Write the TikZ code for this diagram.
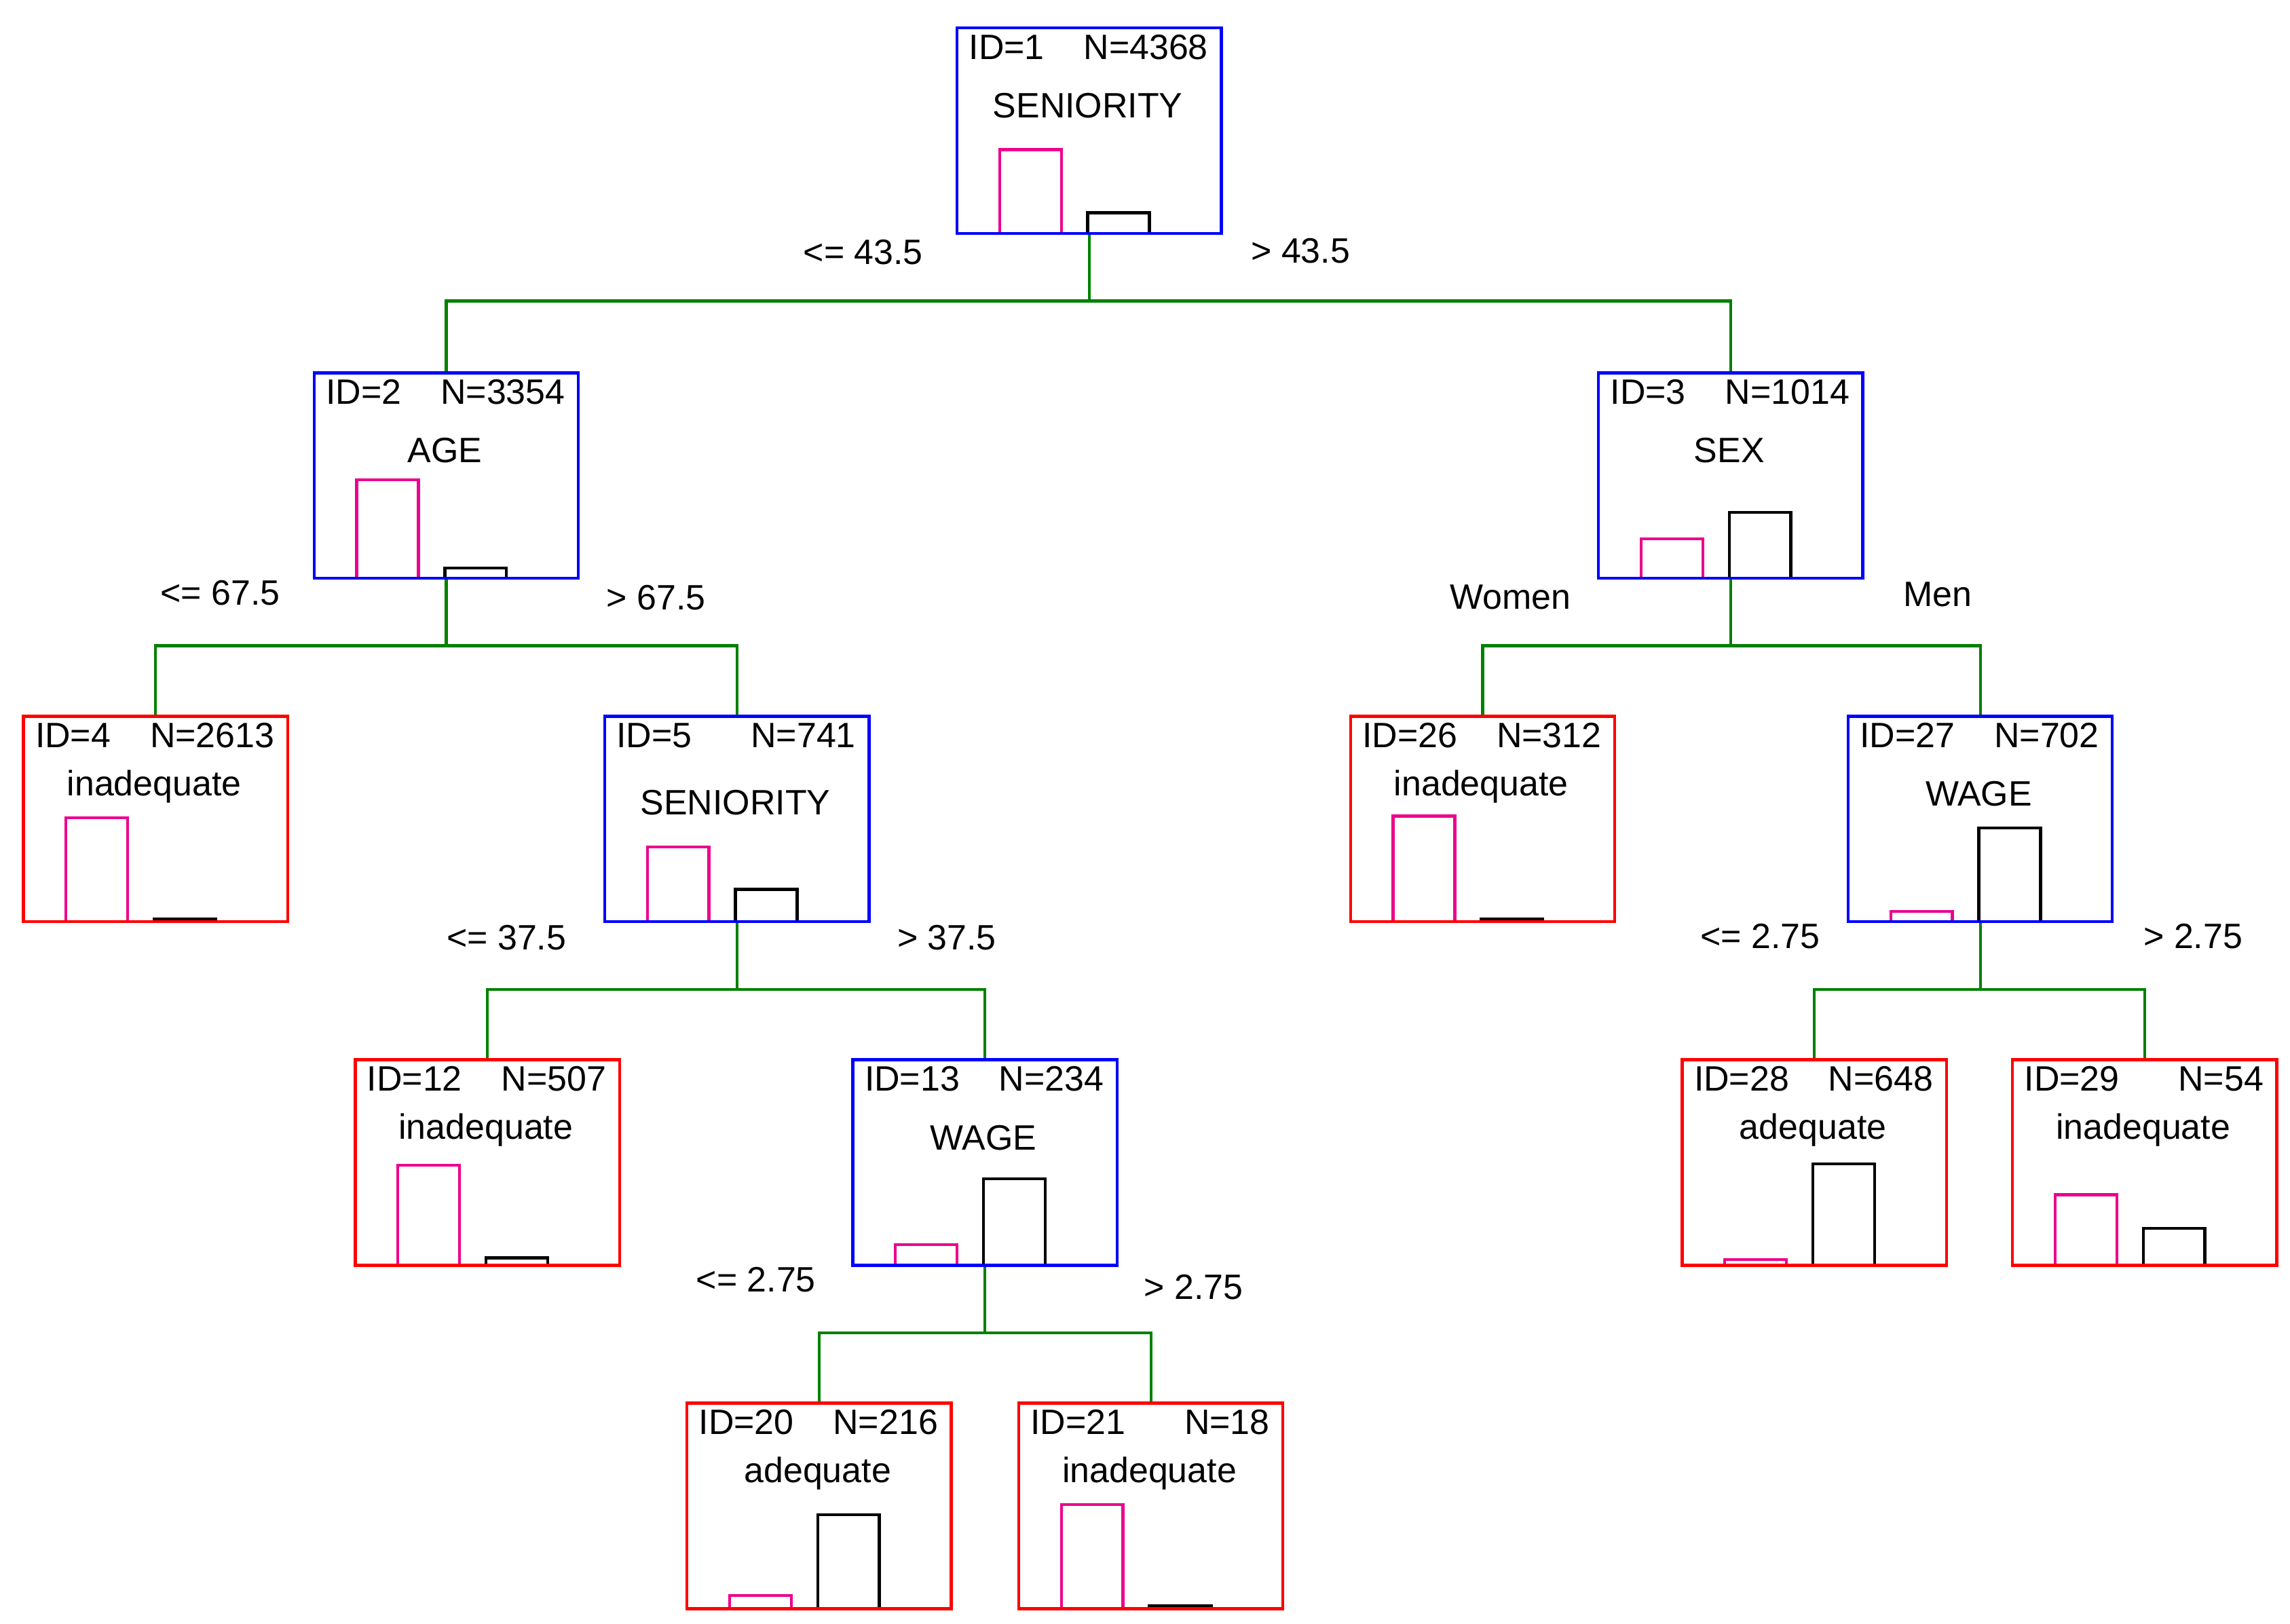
\documentclass[tikz,border=0pt]{standalone}
\usepackage{fontspec}
\setmainfont{Liberation Sans}
\begin{document}
\begin{tikzpicture}[x=0.5pt,y=-0.5pt,
  box/.style={draw,line width=1pt,minimum width=90pt,minimum height=70pt,inner sep=0pt,anchor=north west},
  split/.style={box,blue},
  leaf/.style={box,red},
  mag/.style={draw=magenta,line width=1pt},
  blk/.style={draw=black,line width=1pt},
  con/.style={draw=green!50!black,line width=1pt},
  lab/.style={font=\fontsize{12}{14}\selectfont}]
\fill[white] (0,0) rectangle (1560,1106);
\useasboundingbox (0,0) rectangle (1560,1106);
% #1 name #2 x #3 y #4 style #5 ID #6 N #7 label #8 label dy #9 magenta top, then black top via \bb
\newcommand\tbox[9]{%
  \node[#4] (#1) at (#2,#3) {};
  \node[lab,anchor=west] at (#2+2,#3+14) {ID=#5};
  \node[lab,anchor=east] at (#2+179,#3+14) {N=#6};
  \node[lab] at (#2+90,#3+#8) {#7};
  \draw[mag] (#2+30,#3+140) -- (#2+30,#9) -- (#2+72,#9) -- (#2+72,#3+140);
}
\newcommand\bb[2]{\draw[blk] (#1+90,#2+140) -- (#1+90,\tb) -- (#1+132,\tb) -- (#1+132,#2+140);}
\tbox{n1}{651}{18}{split}{1}{4368}{SENIORITY}{54}{102}\def\tb{145}\bb{651}{18}
\tbox{n2}{213}{253}{split}{2}{3354}{AGE}{54}{327}\def\tb{387}\bb{213}{253}
\tbox{n3}{1088}{253}{split}{3}{1014}{SEX}{54}{367}\def\tb{349}\bb{1088}{253}
\tbox{n4}{15}{487}{leaf}{4}{2613}{inadequate}{49}{557}\def\tb{626}\bb{15}{487}
\tbox{n5}{411}{487}{split}{5}{741}{SENIORITY}{60}{577}\def\tb{606}\bb{411}{487}
\tbox{n26}{919}{487}{leaf}{26}{312}{inadequate}{49}{556}\def\tb{626}\bb{919}{487}
\tbox{n27}{1258}{487}{split}{27}{702}{WAGE}{54}{621}\def\tb{564}\bb{1258}{487}
\tbox{n12}{241}{721}{leaf}{12}{507}{inadequate}{49}{794}\def\tb{857}\bb{241}{721}
\tbox{n13}{580}{721}{split}{13}{234}{WAGE}{54}{848}\def\tb{803}\bb{580}{721}
\tbox{n28}{1145}{721}{leaf}{28}{648}{adequate}{49}{858}\def\tb{793}\bb{1145}{721}
\tbox{n29}{1370}{721}{leaf}{29}{54}{inadequate}{49}{814}\def\tb{837}\bb{1370}{721}
\tbox{n20}{467}{955}{leaf}{20}{216}{adequate}{49}{1087}\def\tb{1032}\bb{467}{955}
\tbox{n21}{693}{955}{leaf}{21}{18}{inadequate}{49}{1025}\def\tb{1094}\bb{693}{955}
\newcommand\con[4]{\draw[con] (#1.south) -- (#1.south |- 0,#4) coordinate (m#1);
  \draw[con] (m#1) -| (#2.north); \draw[con] (m#1) -| (#3.north);}
\con{n1}{n2}{n3}{205}
\con{n2}{n4}{n5}{440}
\con{n3}{n26}{n27}{440}
\con{n5}{n12}{n13}{674}
\con{n27}{n28}{n29}{674}
\con{n13}{n20}{n21}{908}
\node[lab] at (588,172) {<= 43.5};
\node[lab] at (886,171) {> 43.5};
\node[lab] at (150,404) {<= 67.5};
\node[lab] at (447,407) {> 67.5};
\node[lab] at (1029,407) {Women};
\node[lab] at (1320,405) {Men};
\node[lab] at (345,639) {<= 37.5};
\node[lab] at (645,639) {> 37.5};
\node[lab] at (1199,638) {<= 2.75};
\node[lab] at (1494,638) {> 2.75};
\node[lab] at (515,872) {<= 2.75};
\node[lab] at (813,877) {> 2.75};
\end{tikzpicture}
\end{document}
